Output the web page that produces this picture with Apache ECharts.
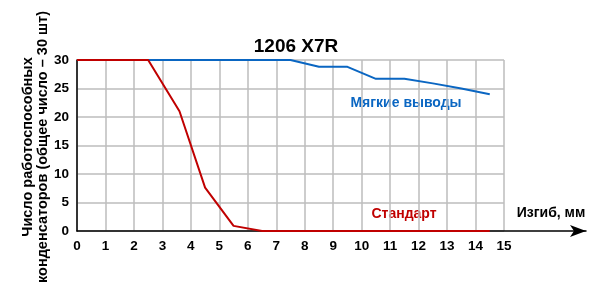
<!DOCTYPE html>
<html><head><meta charset="utf-8">
<script src="https://cdn.jsdelivr.net/npm/echarts@6/dist/echarts.min.js"></script>
<style>html,body{margin:0;padding:0;background:#fff}#c{width:600px;height:292px}</style>
</head><body><div id="c"></div>
<script>
const title = '1206 X7R';
const yName1 = 'Число работоспособных';
const yName2 = 'конденсаторов (общее число – 30 шт)';
const xName = 'Изгиб, мм';
const softName = 'Мягкие выводы';
const stdName = 'Стандарт';
const xTicks = [0,1,2,3,4,5,6,7,8,9,10,11,12,13,14,15];
const yTicks = [0,5,10,15,20,25,30];
const softX = [0, 2.5, 7.5, 8.5, 9.5, 10.5, 11.5, 12.5, 13.5, 14.5];
const softY = [30, 30, 30, 28.8, 28.8, 26.7, 26.7, 25.9, 25.0, 24.0];
const stdX = [0, 2.5, 3.6, 4.5, 5.5, 6.5, 14.5];
const stdY = [30, 30, 21, 7.6, 0.9, 0, 0];

const F = '"Liberation Sans", Arial, sans-serif';
const chart = echarts.init(document.getElementById('c'), null, {renderer:'canvas'});
chart.setOption({
  animation:false,
  backgroundColor:'#fff',
  title:{text:title, left:291, top:32, textAlign:'center',
    textStyle:{fontFamily:F, fontSize:19, fontWeight:'bold', color:'#000'}},
  grid:[
    {left:77, right:96, top:60, bottom:61},
    {left:77, right:14, top:60, bottom:61}
  ],
  xAxis:[
    {gridIndex:0, type:'value', min:0, max:15, interval:1,
     axisLine:{show:false}, axisTick:{show:false},
     axisLabel:{fontFamily:F, fontSize:13.5, fontWeight:'bold', color:'#000', margin:8,
       formatter:v=> xTicks.includes(v)? String(v):''},
     splitLine:{show:true, lineStyle:{color:'#bdbdbd', width:1.5}}},
    {gridIndex:1, type:'value', min:0, max:1,
     axisLine:{show:true, onZero:false, symbol:['none','arrow'], symbolSize:[9,16], lineStyle:{color:'#000', width:1.5}},
     axisTick:{show:false}, axisLabel:{show:false}, splitLine:{show:false}}
  ],
  yAxis:[
    {gridIndex:0, type:'value', min:0, max:30, interval:5,
     axisLine:{show:true, lineStyle:{color:'#000', width:1.5}}, axisTick:{show:false},
     axisLabel:{fontFamily:F, fontSize:13.5, fontWeight:'bold', color:'#000', margin:8,
       formatter:v=> yTicks.includes(v)? String(v):''},
     splitLine:{show:true, lineStyle:{color:'#bdbdbd', width:1.5}}},
    {gridIndex:1, type:'value', min:0, max:1, show:false}
  ],
  series:[
    {name:softName, type:'line', xAxisIndex:0, yAxisIndex:0, symbol:'none',
     lineStyle:{color:'#0a66c2', width:2}, z:3,
     data: softX.map((x,i)=>[x, softY[i]])},
    {name:stdName, type:'line', xAxisIndex:0, yAxisIndex:0, symbol:'none',
     lineStyle:{color:'#c00000', width:2}, z:4,
     data: stdX.map((x,i)=>[x, stdY[i]])}
  ],
  graphic:[
    {type:'text', x:28, y:147, rotation:Math.PI/2,
     style:{text:yName1, align:'center', verticalAlign:'middle', fontFamily:F, fontSize:14.5, fontWeight:'bold', fill:'#000'}},
    {type:'text', x:43, y:147, rotation:Math.PI/2,
     style:{text:yName2, align:'center', verticalAlign:'middle', fontFamily:F, fontSize:14.5, fontWeight:'bold', fill:'#000'}},
    {type:'text', x:551, y:213,
     style:{text:xName, align:'center', verticalAlign:'middle', fontFamily:F, fontSize:14, fontWeight:'bold', fill:'#000'}},
    {type:'text', x:406, y:103,
     style:{text:softName, align:'center', verticalAlign:'middle', fontFamily:F, fontSize:14, fontWeight:'bold', fill:'#0a66c2'}},
    {type:'text', x:404, y:214,
     style:{text:stdName, align:'center', verticalAlign:'middle', fontFamily:F, fontSize:14, fontWeight:'bold', fill:'#c00000'}}
  ]
});
</script></body></html>
